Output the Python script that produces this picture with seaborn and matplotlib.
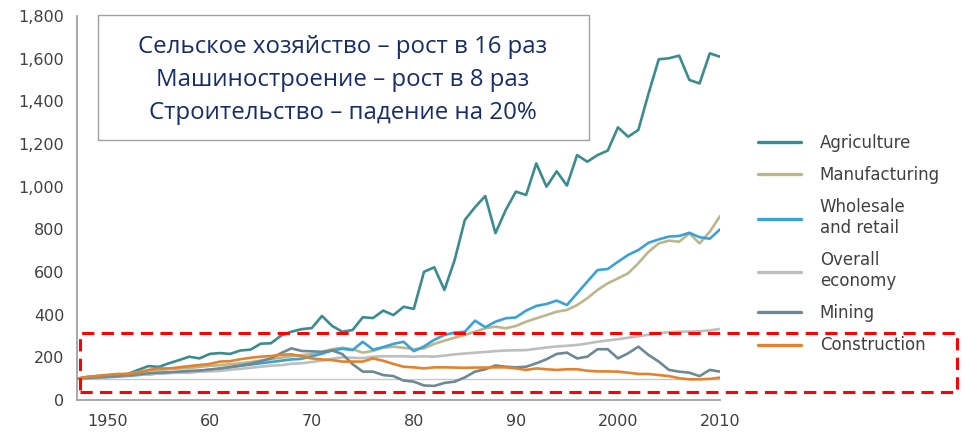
import matplotlib
matplotlib.use("Agg")
import matplotlib.pyplot as plt
from matplotlib.lines import Line2D
from matplotlib.patches import Rectangle
import seaborn as sns
import pandas as pd

years = list(range(1947, 2011))

agriculture = [100, 108, 112, 115, 118, 122, 141, 159, 155, 172, 187, 203, 195, 216, 220, 216,
               232, 236, 264, 266, 302, 320, 332, 337, 394, 347, 320, 328, 388, 384, 419, 398,
               437, 427, 601, 622, 516, 656, 844, 904, 956, 782, 890, 977, 961, 1109, 1000, 1072,
               1005, 1148, 1117, 1148, 1169, 1278, 1234, 1266, 1437, 1597, 1602, 1614, 1500, 1484, 1625, 1609]
manufacturing = [100, 105, 108, 115, 120, 122, 130, 138, 140, 145, 148, 150, 155, 160, 163, 168,
                 172, 178, 185, 192, 198, 205, 210, 215, 225, 238, 245, 238, 222, 230, 245, 250,
                 245, 238, 242, 263, 278, 292, 305, 320, 336, 344, 336, 347, 367, 383, 398, 414,
                 422, 445, 477, 516, 547, 570, 594, 641, 695, 734, 747, 742, 781, 734, 789, 862]
wholesale = [100, 103, 105, 107, 110, 113, 117, 121, 125, 127, 130, 133, 137, 141, 145, 152,
             160, 166, 172, 178, 184, 190, 193, 205, 217, 232, 240, 234, 273, 236, 248, 263,
             273, 229, 251, 282, 305, 316, 320, 372, 341, 367, 383, 387, 419, 441, 450, 466,
             445, 500, 555, 609, 614, 648, 680, 703, 737, 753, 766, 769, 784, 763, 756, 800]
overall = [100, 103, 103, 110, 115, 117, 120, 118, 125, 127, 128, 127, 133, 134, 136, 142,
           146, 151, 156, 161, 163, 170, 172, 178, 185, 193, 200, 198, 196, 203, 205, 205,
           205, 203, 205, 203, 208, 214, 218, 222, 225, 229, 232, 233, 234, 240, 246, 251,
           254, 258, 265, 273, 279, 285, 292, 299, 306, 313, 318, 320, 321, 322, 326, 333]
mining = [100, 104, 106, 110, 114, 116, 120, 125, 128, 130, 133, 136, 138, 143, 148, 155,
          162, 170, 182, 195, 220, 242, 230, 228, 226, 232, 215, 168, 133, 133, 117, 112,
          91, 86, 68, 66, 80, 86, 106, 133, 144, 162, 156, 153, 156, 172, 191, 216,
          222, 195, 203, 238, 238, 195, 219, 250, 211, 180, 141, 133, 128, 112, 141, 133]
construction = [100, 108, 113, 118, 122, 122, 128, 141, 148, 148, 153, 159, 164, 169, 180, 182,
                191, 198, 203, 206, 212, 214, 205, 195, 190, 187, 180, 180, 180, 195, 184, 169,
                156, 153, 148, 153, 153, 152, 151, 152, 152, 153, 153, 148, 141, 148, 144, 141,
                144, 144, 137, 134, 134, 133, 128, 122, 122, 117, 112, 102, 97, 97, 99, 105]

series_names = ["Agriculture", "Manufacturing", "Wholesale\nand retail",
                "Overall\neconomy", "Mining", "Construction"]
series_values = [agriculture, manufacturing, wholesale, overall, mining, construction]
colors = ["#3B8B8F", "#BDB68A", "#3BA2D6", "#BEBEBE", "#6E8995", "#E3822E"]

y_ticks = [0, 200, 400, 600, 800, 1000, 1200, 1400, 1600, 1800]
y_tick_labels = ["0", "200", "400", "600", "800", "1,000", "1,200", "1,400", "1,600", "1,800"]
x_ticks = [1950, 1960, 1970, 1980, 1990, 2000, 2010]
x_tick_labels = ["1950", "60", "70", "80", "90", "2000", "2010"]

box_lines = ["Сельское хозяйство – рост в 16 раз",
             "Машиностроение – рост в 8 раз",
             "Строительство – падение на 20%"]

rows = []
for name, vals in zip(series_names, series_values):
    for yr, v in zip(years, vals):
        rows.append({"year": yr, "value": v, "series": name})
df = pd.DataFrame(rows)

sns.set_style("white")
plt.rcParams["font.family"] = ["DejaVu Sans"]

fig = plt.figure(figsize=(9.66, 4.38), dpi=100)
ax = fig.add_axes([77 / 966, 1 - 400 / 438, (720 - 77) / 966, (400 - 16) / 438])

palette = dict(zip(series_names, colors))
ax.axhline(100, color="#C8C8C8", lw=1.0, zorder=1)
sns.lineplot(data=df, x="year", y="value", hue="series", hue_order=series_names,
             palette=palette, linewidth=1.9, legend=False, ax=ax, zorder=3)

ax.set_xlim(1947, 2010)
ax.set_ylim(0, 1800)
ax.set_xticks(x_ticks)
ax.set_xticklabels(x_tick_labels)
ax.set_yticks(y_ticks)
ax.set_yticklabels(y_tick_labels)
ax.set_xlabel("")
ax.set_ylabel("")
for s in ["top", "right"]:
    ax.spines[s].set_visible(False)
for s in ["left", "bottom"]:
    ax.spines[s].set_color("#A8A8A8")
    ax.spines[s].set_linewidth(1.4)
ax.tick_params(axis="both", direction="in", length=5, width=1.2, color="#A8A8A8",
               labelcolor="#404040", labelsize=11.5)
ax.tick_params(axis="y", pad=9)
ax.tick_params(axis="x", pad=10)

handles = [Line2D([0], [0], color=c, lw=2.4) for c in colors]
fig.legend(handles, series_names, loc="upper left",
           bbox_to_anchor=(758 / 966, 1 - 134 / 438), frameon=False,
           fontsize=12, labelcolor="#404040", handlelength=2.6, handletextpad=1.1,
           labelspacing=0.85, borderpad=0, borderaxespad=0)

# annotation box
fig.patches.append(Rectangle((98 / 966, 1 - 140 / 438), (589 - 98) / 966, 125 / 438,
                             transform=fig.transFigure, facecolor="white",
                             edgecolor="#A0A0A0", lw=1.0, zorder=5))
for i, line in enumerate(box_lines):
    fig.text(343 / 966, 1 - (47 + 33 * i) / 438, line, ha="center", va="center",
             fontsize=17.3, color="#172C69", family=["Open Sans", "DejaVu Sans"], zorder=6)

# highlight frame
fig.patches.append(Rectangle((80 / 966, 1 - 392 / 438), (957 - 80) / 966, 59 / 438,
                             transform=fig.transFigure, facecolor="none",
                             edgecolor="#FF0000", lw=2.2, linestyle=(0, (4, 2.4)), zorder=7))

fig.savefig("out.png", dpi=100)
